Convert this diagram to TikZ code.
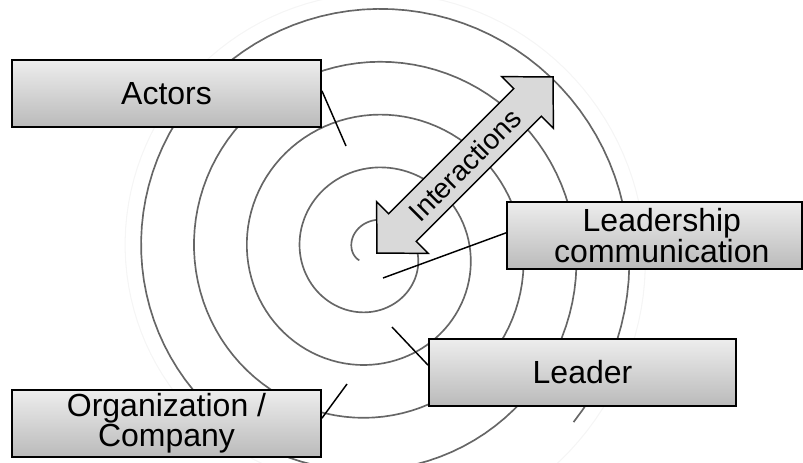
\documentclass[tikz,border=0pt]{standalone}
\usepackage{fontspec}
\setmainfont{Liberation Sans}
\usepackage{tikz}

\begin{document}
\begin{tikzpicture}[x=0.75pt,y=-0.75pt]
   \tikzstyle{spiral} = [draw=black!60, line width=1.25pt]
   \tikzstyle{ghost} = [draw=black!4, line width=0.8pt]
   \tikzstyle{box} = [draw, line width=1.4pt, top color=black!7,
     bottom color=black!27, inner sep=0pt, minimum height=50.25pt,
     font=\fontsize{24}{21}\selectfont, align=center]
   \tikzstyle{conn} = [draw, line width=1.1pt]
   \useasboundingbox (0,0) rectangle (803,462);
   %%
   \begin{scope}
     \clip (0,0) rectangle (803,462);
     \path [ghost] plot[domain=1000:1330, samples=120, variable=\t]
       ({372+(88+0.147*\t)*cos(180-\t)}, {253-(88+0.147*\t)*sin(180-\t)});
     \path [spiral] plot[domain=-390:1300, samples=500, variable=\t]
       ({372+(72+0.147*\t)*cos(180-\t)}, {253-(72+0.147*\t)*sin(180-\t)});
   \end{scope}
   %%
   \begin{scope}[shift={(465,165)},rotate=45]
     \draw [line width=1.1pt, fill=black!15]
       (124.5,0) -- (88.5,36.5) -- (88.5,19.5) -- (-88.5,19.5)
       -- (-88.5,36.5) -- (-124.5,0) -- (-88.5,-36.5) -- (-88.5,-19.5)
       -- (88.5,-19.5) -- (88.5,-36.5) -- cycle;
   \end{scope}
   \node [rotate=45, font=\fontsize{21}{21}\selectfont] (inter) at (465,165)
     {Interactions};
   %%
   \node [box, minimum width=231.75pt] (actors) at (166.5,93.5) {Actors};
   \node [box, minimum width=221.25pt] (leadcom) at (654.5,235.5)
     {\hspace*{11pt}Leadership\\\hspace*{11pt}communication};
   \node [box, minimum width=230.25pt] (leader) at (582.5,372.5) {Leader};
   \node [box, minimum width=231.75pt] (orga) at (166.5,423.5)
     {Organization /\\Company};
   %%
   \coordinate (actpt) at (346,146);
   \coordinate (compt) at (383,278);
   \coordinate (leapt) at (392,327);
   \coordinate (orgpt) at (347,384);
   \path [conn] ([yshift=2pt]actors.east) -- (actpt);
   \path [conn] ([yshift=2pt]leadcom.west) -- (compt);
   \path [conn] ([yshift=5.5pt]leader.west) -- (leapt);
   \path [conn] ([yshift=4pt]orga.east) -- (orgpt);
\end{tikzpicture}
\end{document}
